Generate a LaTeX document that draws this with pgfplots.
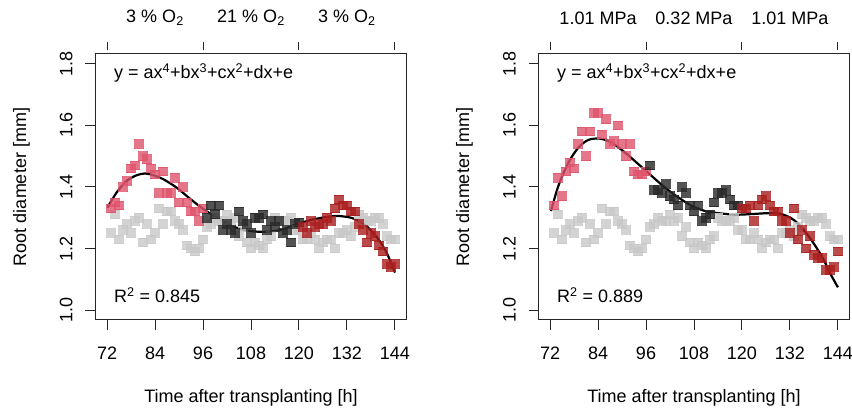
\documentclass[border=0pt]{standalone}
\usepackage{pgfplots}
\usepackage{pgfplotstable}
\pgfplotsset{compat=1.18}
\usepackage{fontspec}
\setmainfont{Liberation Sans}
\definecolor{cpink}{RGB}{223,83,107}
\definecolor{cdgray}{RGB}{40,40,40}
\definecolor{cdred}{RGB}{170,30,30}
\definecolor{clgray}{RGB}{200,200,200}

\pgfplotstableread{
x y
73 1.25
74 1.31
75 1.23
76 1.26
77 1.28
78 1.25
79 1.29
80 1.30
81 1.22
82 1.28
83 1.23
84 1.25
85 1.33
86 1.28
87 1.32
88 1.32
89 1.29
90 1.28
91 1.26
92 1.21
93 1.20
94 1.19
95 1.20
96 1.23
97 1.27
98 1.28
99 1.30
100 1.29
101 1.29
102 1.31
103 1.29
104 1.30
105 1.24
106 1.27
107 1.22
108 1.20
109 1.22
110 1.21
111 1.20
112 1.23
113 1.24
114 1.30
115 1.29
116 1.29
117 1.29
118 1.30
119 1.26
120 1.26
121 1.23
122 1.23
123 1.25
124 1.23
125 1.20
126 1.22
127 1.23
128 1.23
129 1.20
130 1.25
131 1.25
132 1.26
133 1.24
134 1.27
135 1.31
136 1.30
137 1.29
138 1.29
139 1.30
140 1.30
141 1.28
142 1.24
143 1.23
144 1.23
}\ctrl

% ---------- left panel (O2) ----------
\pgfplotstableread{
x y
73 1.33
74 1.35
75 1.34
76 1.40
77 1.42
78 1.46
79 1.47
80 1.54
81 1.50
82 1.49
83 1.46
84 1.44
85 1.38
86 1.45
87 1.38
88 1.38
89 1.43
90 1.35
91 1.40
92 1.35
93 1.32
94 1.32
95 1.29
96 1.33
}\Lred
\pgfplotstableread{
x y
97 1.30
98 1.34
99 1.31
100 1.34
101 1.26
102 1.28
103 1.26
104 1.25
105 1.32
106 1.29
107 1.28
108 1.25
109 1.30
110 1.30
111 1.31
112 1.26
113 1.29
114 1.27
115 1.29
116 1.25
117 1.26
118 1.22
119 1.28
120 1.285
}\Ldark
\pgfplotstableread{
x y
121 1.27
122 1.25
123 1.29
124 1.27
125 1.28
126 1.28
127 1.30
128 1.29
129 1.33
130 1.36
131 1.34
132 1.34
133 1.32
134 1.32
135 1.28
136 1.26
137 1.22
138 1.25
139 1.24
140 1.21
141 1.19
142 1.15
143 1.14
144 1.15
}\Ldred
\pgfplotstableread{
x y
72.1 1.333
74.4 1.382
76.9 1.420
79.4 1.438
81.5 1.444
83.6 1.438
86.1 1.425
89.4 1.398
92.75 1.362
96.1 1.328
99.4 1.301
102.75 1.276
106.1 1.261
109.4 1.255
112.75 1.255
116.1 1.263
119.4 1.279
122.75 1.292
126.1 1.301
129.4 1.306
132.75 1.301
135.0 1.290
137.3 1.268
139.8 1.231
141.9 1.187
144.0 1.122
}\Lfit

% ---------- right panel (pressure) ----------
\pgfplotstableread{
x y
73 1.34
74 1.43
75 1.37
76 1.45
77 1.48
78 1.46
79 1.54
80 1.58
81 1.50
82 1.58
83 1.64
84 1.64
85 1.57
86 1.62
87 1.54
88 1.55
89 1.60
90 1.54
91 1.50
92 1.54
93 1.45
94 1.44
95 1.44
96 1.45
}\Rred
\pgfplotstableread{
x y
97 1.47
98 1.39
99 1.39
100 1.38
101 1.41
102 1.37
103 1.36
104 1.34
105 1.40
106 1.38
107 1.34
108 1.32
109 1.34
110 1.29
111 1.30
112 1.31
113 1.35
114 1.38
115 1.38
116 1.39
117 1.36
118 1.34
119 1.34
}\Rdark
\pgfplotstableread{
x y
120 1.33
121 1.33
122 1.34
123 1.29
124 1.34
125 1.36
126 1.37
127 1.34
128 1.32
129 1.32
130 1.29
131 1.29
132 1.25
133 1.33
134 1.23
135 1.26
136 1.20
137 1.24
138 1.18
139 1.17
140 1.17
141 1.13
142 1.13
143 1.14
144 1.19
}\Rdred
\pgfplotstableread{
x y
72.25 1.322
74.1 1.404
76.6 1.479
79.1 1.528
81.6 1.553
84.5 1.557
87.4 1.544
90.75 1.512
94.1 1.474
97.4 1.436
100.75 1.398
104.1 1.366
107.4 1.339
110.75 1.322
114.1 1.315
118.25 1.310
122.4 1.312
126.6 1.315
129.9 1.312
133.25 1.290
136.6 1.241
139.9 1.176
142.4 1.111
144.0 1.074
}\Rfit

\pgfplotsset{
  rpanel/.style={
    anchor=south west, scale only axis, width=311pt, height=266pt,
    xmin=69.12, xmax=146.88, ymin=0.968, ymax=1.832,
    xtick={72,84,...,144}, ytick={1.0,1.2,1.4,1.6,1.8},
    xtick pos=lower, ytick pos=left,
    tick align=outside, major tick length=10pt,
    axis line style={line width=1pt, black!85},
    every tick/.style={line width=1pt, black!85},
    /pgf/number format/assume math mode=true,
    yticklabel style={/pgf/number format/fixed, /pgf/number format/fixed zerofill, /pgf/number format/precision=1, /tikz/xshift=-13pt, /tikz/rotate=90, /tikz/anchor=base},
    xticklabel style={/tikz/anchor=base, /tikz/yshift=-29.5pt},
    clip=false,
  },
  ctrlpts/.style={only marks, mark=square*, mark size=4.3pt, color=clgray, opacity=0.8, mark options={line width=0pt}},
  redpts/.style={only marks, mark=square*, mark size=4.3pt, color=cpink, opacity=0.8, mark options={line width=0pt}},
  darkpts/.style={only marks, mark=square*, mark size=4.3pt, color=cdgray, opacity=0.8, mark options={line width=0pt}},
  dredpts/.style={only marks, mark=square*, mark size=4.3pt, color=cdred, opacity=0.8, mark options={line width=0pt}},
  fitline/.style={no marks, smooth, black, line width=2.2pt},
}

\begin{document}
\fontsize{18}{21.6}\selectfont
\begin{tikzpicture}[x=1pt,y=1pt]
\path[use as bounding box] (0,0) rectangle (852,411);

\begin{axis}[rpanel, at={(95.5pt,91pt)}]
\addplot[ctrlpts] table {\ctrl};
\addplot[redpts] table {\Lred};
\addplot[darkpts] table {\Ldark};
\addplot[dredpts] table {\Ldred};
\addplot[fitline] table {\Lfit};
\pgfplotsinvokeforeach{72,96,120,144}{
  \draw[line width=1pt, black!85] ([yshift=4pt]axis cs:#1,1.832) -- ([yshift=12pt]axis cs:#1,1.832);
}
\node at ([yshift=36pt]axis cs:84,1.832) {3 \% O\textsubscript{2}};
\node at ([yshift=36pt]axis cs:108,1.832) {21 \% O\textsubscript{2}};
\node at ([yshift=36pt]axis cs:132,1.832) {3 \% O\textsubscript{2}};
\node[anchor=west] at (rel axis cs:0.04,0.93) {y = ax\textsuperscript{4}+bx\textsuperscript{3}+cx\textsuperscript{2}+dx+e};
\node[anchor=west] at (rel axis cs:0.04,0.094) {R\textsuperscript{2} = 0.845};
\node at ([yshift=-78pt]rel axis cs:0.5,0) {Time after transplanting [h]};
\node[rotate=90] at ([xshift=-74pt]rel axis cs:0,0.5) {Root diameter [mm]};
\end{axis}

\begin{axis}[rpanel, at={(538.5pt,91pt)}]
\addplot[ctrlpts] table {\ctrl};
\addplot[redpts] table {\Rred};
\addplot[darkpts] table {\Rdark};
\addplot[dredpts] table {\Rdred};
\addplot[fitline] table {\Rfit};
\pgfplotsinvokeforeach{72,96,120,144}{
  \draw[line width=1pt, black!85] ([yshift=4pt]axis cs:#1,1.832) -- ([yshift=12pt]axis cs:#1,1.832);
}
\node at ([yshift=36pt]axis cs:84,1.832) {1.01 MPa};
\node at ([yshift=36pt]axis cs:108,1.832) {0.32 MPa};
\node at ([yshift=36pt]axis cs:132,1.832) {1.01 MPa};
\node[anchor=west] at (rel axis cs:0.04,0.93) {y = ax\textsuperscript{4}+bx\textsuperscript{3}+cx\textsuperscript{2}+dx+e};
\node[anchor=west] at (rel axis cs:0.04,0.094) {R\textsuperscript{2} = 0.889};
\node at ([yshift=-78pt]rel axis cs:0.5,0) {Time after transplanting [h]};
\node[rotate=90] at ([xshift=-74pt]rel axis cs:0,0.5) {Root diameter [mm]};
\end{axis}
\end{tikzpicture}
\end{document}
